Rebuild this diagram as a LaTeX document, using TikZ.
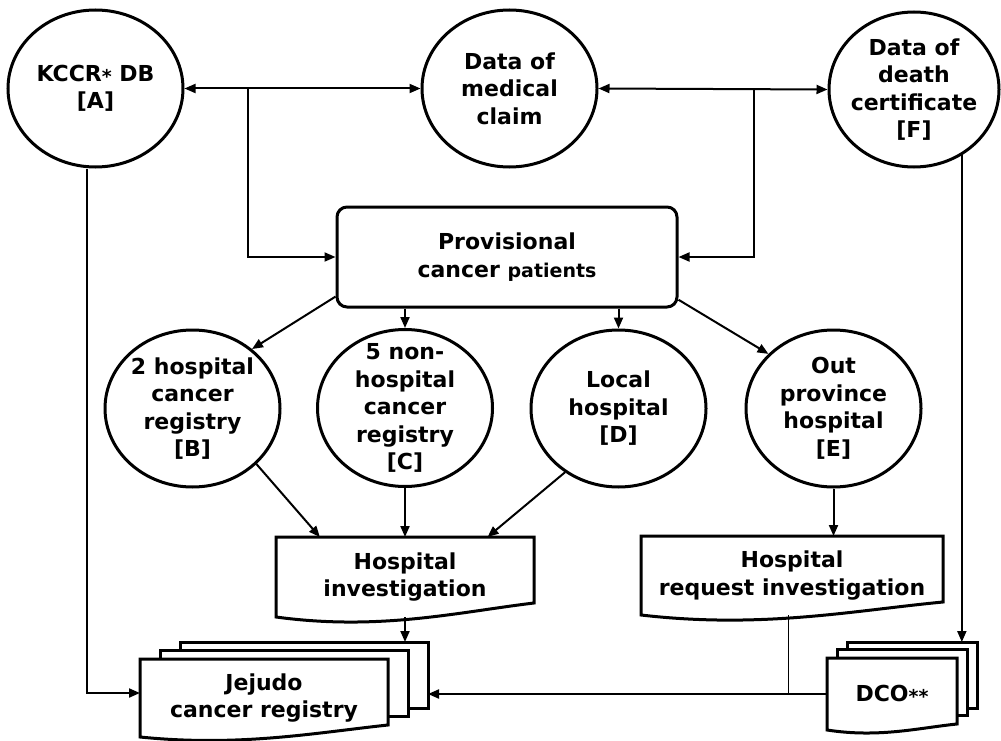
\documentclass[tikz,border=0pt]{standalone}
\usepackage{fontspec}
\setmainfont{DejaVu Sans}
\usetikzlibrary{positioning,arrows.meta,shapes.geometric,calc,backgrounds}

\newcommand{\tinyast}{\raisebox{-2pt}{\fontsize{19}{19}\selectfont *}}
% document outline: node, dip of the wave, rise of its right end
\newcommand{\docpath}[3]{(#1.south west)
  .. controls ($(#1.south west)!0.4!(#1.south east)+(0,#2)$)
  and ($(#1.south west)!0.7!(#1.south east)+(0,-#3/3)$)
  .. ($(#1.south east)+(0,-#3)$) -- (#1.north east) -- (#1.north west) -- cycle}

\begin{document}
\begin{tikzpicture}[
    x=1pt, y=-1pt,
    every node/.style={font=\bfseries\fontsize{22}{27.5}\selectfont, align=center},
    blob/.style={ellipse, draw, line width=3pt, inner sep=-14pt,
                 minimum width=175pt, minimum height=157pt},
    flowbox/.style={rectangle, draw, line width=3pt, rounded corners=10pt,
                    minimum width=340pt, minimum height=100pt},
    docnode/.style={rectangle, inner sep=0pt, outer sep=0pt},
    doclayer/.style={rectangle, draw, fill=white, line width=3pt,
                     anchor=north, outer sep=0pt, minimum height=66pt},
    docline/.style={draw, fill=white, line width=3pt},
    link/.style={-{Triangle[length=11pt,width=9pt]}, line width=2pt},
    dlink/.style={{Triangle[length=11pt,width=9pt]}-{Triangle[length=11pt,width=9pt]},
                  line width=2pt},
]
\useasboundingbox (0,0) rectangle (1001,741);

% data sources
\node[blob] (kccr) at (95.5,88.5) {KCCR\tinyast{} DB\\{}[A]};
\node[blob] (claim) at (509.5,88.5) {Data of\\medical\\claim};
\node[blob, minimum width=170pt, minimum height=155pt]
    (death) at (914,89.5) {Data of\\death\\certificate\\{}[F]};

\node[flowbox] (prov) at (507,257)
    {Provisional\\cancer {\fontsize{19}{27.5}\selectfont patients}};

% hospitals
\node[blob] (regB) at (192.5,408.5) {2 hospital\\cancer\\registry\\{}[B]};
\node[blob] (regC) at (405,408) {5 non-\\hospital\\cancer\\registry\\{}[C]};
\node[blob] (locD) at (618.5,408.5) {Local\\hospital\\{}[D]};
\node[blob] (outE) at (833.5,408.5) {Out\\province\\hospital\\{}[E]};

% documents
\node[docnode, minimum width=258pt, minimum height=80pt]
    (hinv) at (405,577) {Hospital\\investigation};
\node[docnode, minimum width=302pt, minimum height=79pt]
    (hreq) at (792,575.5) {Hospital\\request investigation};
\node[docnode, minimum width=248pt, minimum height=78pt]
    (jejF) at (264,698) {Jejudo\\cancer registry};
\node[docnode, minimum width=130pt, minimum height=72pt]
    (dcoF) at (892,694) {DCO\tinyast\tinyast};

\begin{scope}[on background layer]
  \node[doclayer, minimum width=248pt] (jej3) at ($(jejF.north)+(40,-17)$) {};
  \node[doclayer, minimum width=248pt] (jej2) at ($(jejF.north)+(20,-9)$) {};
  \path[docline] \docpath{jejF}{10}{12};
  \node[doclayer, minimum width=130pt] (dco3) at ($(dcoF.north)+(20,-16)$) {};
  \node[doclayer, minimum width=130pt] (dco2) at ($(dcoF.north)+(10,-9)$) {};
  \path[docline] \docpath{dcoF}{8}{6};
  \path[docline] \docpath{hinv}{14}{14};
  \path[docline] \docpath{hreq}{14}{13};
\end{scope}

\coordinate (jl) at ($(kccr.east)!0.27!(claim.west)$);
\coordinate (jr) at ($(claim.east)!0.68!(death.west)$);
\coordinate (hq) at ($(hreq.south west)!0.49!(hreq.south east)$);

\draw[dlink] (kccr) -- (claim);
\draw[dlink] (claim.east) -- (death.west);
\draw[link] (jl) |- (prov.west);
\draw[link] (jr) |- (prov.east);

\draw[link] (prov.193.6) -- (regB.45);
\draw[link] (regC.north |- prov.south) -- (regC.north);
\draw[link] (locD.north |- prov.south) -- (locD.north);
\draw[link] (prov.-14.4) -- (outE.140);

\draw[link] (regB.-41) -- ($(hinv.north west)!0.17!(hinv.north east)$);
\draw[link] (regC.south) -- (regC.south |- hinv.north);
\draw[link] (locD.-130.6) -- ($(hinv.north west)!0.82!(hinv.north east)$);
\draw[link] (outE.south) -- (outE.south |- hreq.north);

\draw[link] (hinv.south) -- (hinv.south |- jej3.north);
\draw[link] (death.-54) -- (death.-54 |- dco3.north);
\draw[link] ([xshift=-9pt]kccr.south) |- ([yshift=5pt]jejF.west);
\draw[link] (dcoF.west) -- (dcoF.west -| jej3.east);
\draw[line width=1pt] (hq) -- (hq |- dcoF.west);
\end{tikzpicture}
\end{document}
